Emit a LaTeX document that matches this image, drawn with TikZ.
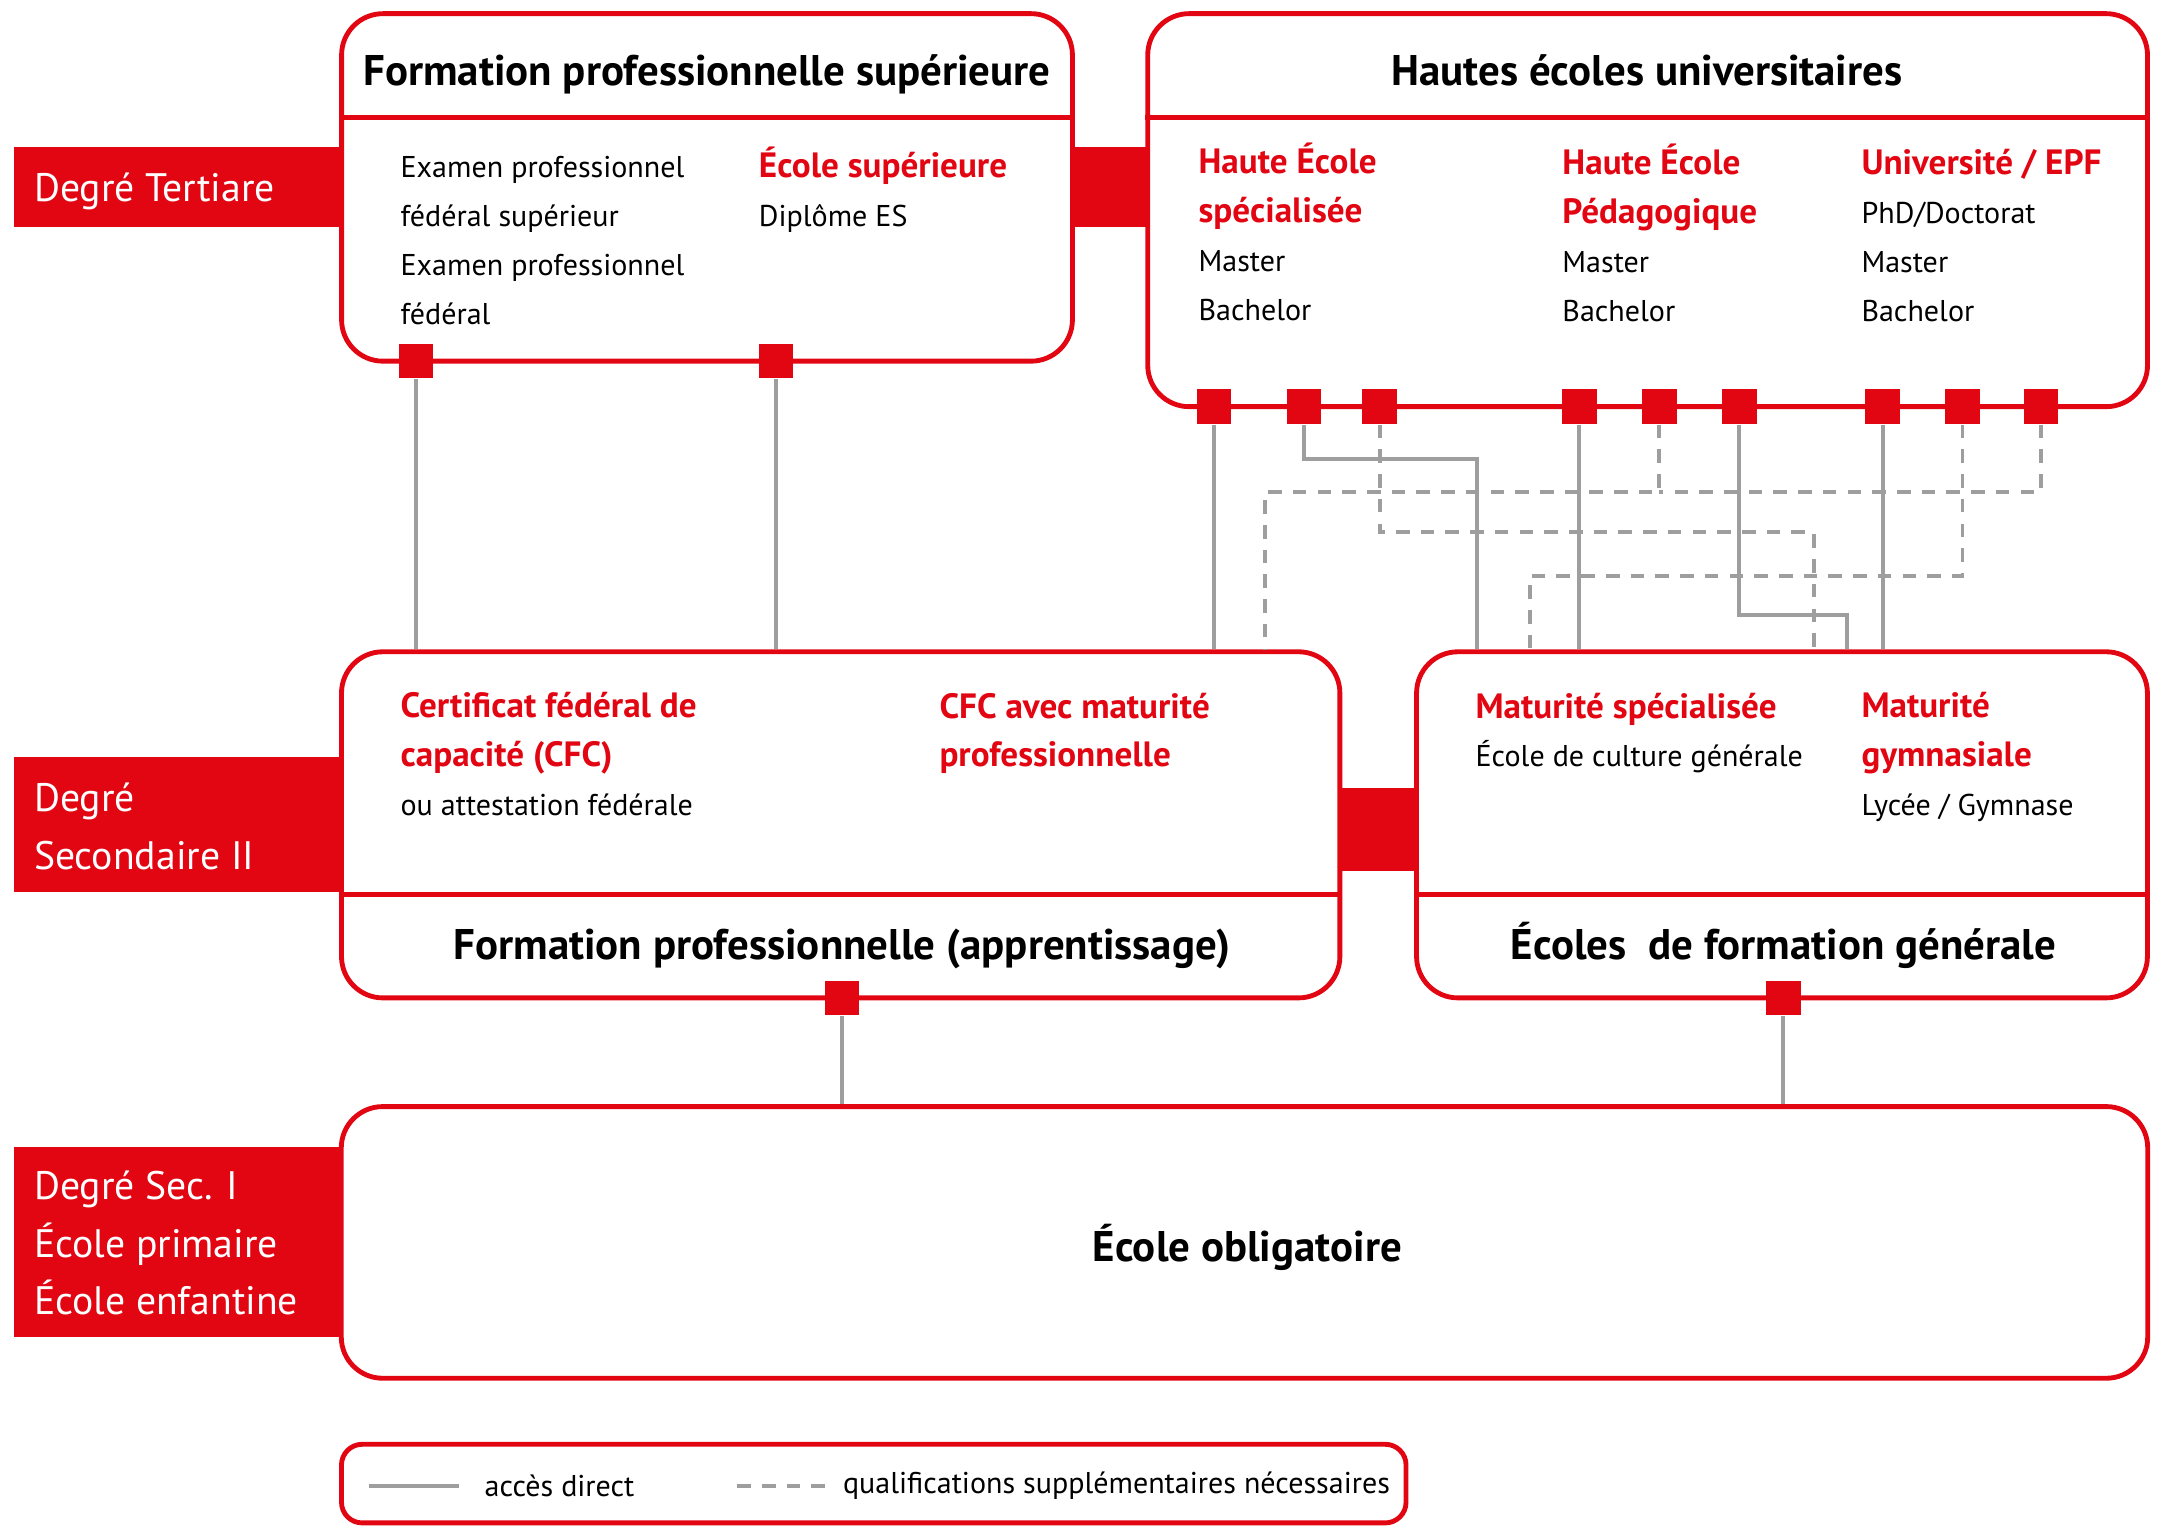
\documentclass[tikz,border=0pt]{standalone}
\usepackage{fontspec}
\setmainfont{PT Sans}
\usepackage{tikz}

\definecolor{chred}{RGB}{226,6,19}
\definecolor{linkgray}{RGB}{158,158,158}
\newcommand{\inst}[1]{\textcolor{chred}{\bfseries\fontsize{7.25}{10.1}\selectfont #1}}

\tikzset{
  box/.style={draw=chred, line width=1pt, rounded corners=0.3cm, fill=white, inner sep=0pt},
  rule/.style={draw=chred, line width=1pt},
  band/.style={fill=chred},
  pin/.style={fill=chred, minimum width=0.25cm, minimum height=0.25cm, inner sep=0pt},
  direct/.style={draw=linkgray, line width=0.8pt},
  extra/.style={direct, dash pattern=on 2.8pt off 2.3pt},
  head/.style={font=\bfseries\fontsize{8.85}{10}\selectfont, text height=1.5ex, text depth=0.25ex, inner sep=0pt},
  body/.style={font=\fontsize{6.2}{10.1}\selectfont, align=left, anchor=base west, inner sep=0pt},
  side/.style={text=white, font=\fontsize{8.2}{11.9}\selectfont, align=left, anchor=base west, inner sep=0pt}
}

\begin{document}
\begin{tikzpicture}[x=0.01cm, y=-0.01cm]
  \useasboundingbox (0,0) rectangle (1568,1110);

  % red bands of the levels
  \fill[band] (10,107) rectangle (248,165);
  \fill[band] (10,549) rectangle (248,647);
  \fill[band] (10,832) rectangle (248,970);
  \fill[band] (770,107) rectangle (840,165);
  \fill[band] (965,572) rectangle (1035,632);

  % (base = last line)
  \node[side] (tert) at (24,146) {Degré Tertiare};
  \node[side] (sec2) at (24,631) {Degré\\Secondaire II};
  \node[side] (sec1) at (24,954) {Degré Sec. I\\École primaire\\École enfantine};

  % boxes
  \node[box, minimum width=5.30cm, minimum height=2.52cm] (fps) at (513,136) {};
  \node[box, minimum width=7.25cm, minimum height=2.85cm] (hes) at (1195.5,152.5) {};
  \node[box, minimum width=7.24cm, minimum height=2.51cm] (appr) at (610,598.5) {};
  \node[box, minimum width=5.30cm, minimum height=2.51cm] (gen) at (1293,598.5) {};
  \node[box, minimum width=13.10cm, minimum height=1.97cm] (oblig) at (903,901.5) {};
  \node[box, rounded corners=0.15cm, minimum width=7.72cm, minimum height=0.57cm] (leg) at (634,1076.5) {};

  \draw[rule] ([yshift=-0.77cm]fps.north west) -- ([yshift=-0.77cm]fps.north east);
  \draw[rule] ([yshift=-0.77cm]hes.north west) -- ([yshift=-0.77cm]hes.north east);
  \draw[rule] ([yshift=0.77cm]appr.south west) -- ([yshift=0.77cm]appr.south east);
  \draw[rule] ([yshift=0.77cm]gen.south west) -- ([yshift=0.77cm]gen.south east);

  % titles
  \node[head] (fpsT) at (513,51) {Formation professionnelle supérieure};
  \node[head] (hesT) at (1195,51) {Hautes écoles universitaires};
  \node[head] (apprT) at (611,685) {Formation professionnelle (apprentissage)};
  \node[head] (genT) at (1294,685) {Écoles\ \ de formation générale};
  \node[head] (obligT) at (905,904) {École obligatoire};

  % contents
  \node[body] (exam) at (290,235.5) {Examen professionnel\\fédéral supérieur\\Examen professionnel\\fédéral};
  \node[body] (es) at (550,164.5) {\inst{École supérieure}\\Diplôme ES};
  \node[body] (hs) at (869,232.5) {\inst{Haute École}\\\inst{spécialisée}\\Master\\Bachelor};
  \node[body] (hp) at (1133,233.5) {\inst{Haute École}\\\inst{Pédagogique}\\Master\\Bachelor};
  \node[body] (uni) at (1350,233.5) {\inst{Université / EPF}\\PhD/Doctorat\\Master\\Bachelor};
  \node[body] (cfc) at (290,592) {\inst{Certificat fédéral de}\\\inst{capacité (CFC)}\\ou attestation fédérale};
  \node[body] (mp) at (681,556.5) {\inst{CFC avec maturité}\\\inst{professionnelle}};
  \node[body] (ms) at (1070,556.5) {\inst{Maturité spécialisée}\\École de culture générale};
  \node[body] (mg) at (1350,592) {\inst{Maturité}\\\inst{gymnasiale}\\Lycée / Gymnase};

  % red pins on the boxes
  \node[pin] (fps1) at (302,262) {};
  \node[pin] (fps2) at (563,262) {};
  \foreach \px [count=\i] in {881,946,1001,1146,1204,1262,1366,1424,1481}
    \node[pin] (hes\i) at (\px,295) {};
  \node[pin] (appr1) at (611,724) {};
  \node[pin] (gen1) at (1294,724) {};

  % bends
  \coordinate (b2) at (1072,333);
  \coordinate (b3) at (1316,386);
  \coordinate (b5) at (918,357);
  \coordinate (b6) at (1340,446);
  \coordinate (b8) at (1110,418);

  % connectors
  \draw[direct] (fps1) -- (fps1 |- appr.north);
  \draw[direct] (fps2) -- (fps2 |- appr.north);
  \draw[direct] (hes1) -- (hes1 |- appr.north);
  \draw[direct] (hes2) |- (b2) -- (b2 |- gen.north);
  \draw[extra] (hes3) |- (b3) -- (b3 |- gen.north);
  \draw[direct] (hes4) -- (hes4 |- gen.north);
  \draw[extra] (hes5) |- (b5) -- (b5 |- appr.north);
  \draw[direct] (hes6) |- (b6) -- (b6 |- gen.north);
  \draw[direct] (hes7) -- (hes7 |- gen.north);
  \draw[extra] (hes8) |- (b8) -- (b8 |- gen.north);
  \draw[extra] (hes9) |- (hes5 |- b5);
  \draw[direct] (appr1) -- (appr1 |- oblig.north);
  \draw[direct] (gen1) -- (gen1 |- oblig.north);

  % legend
  \coordinate (l1) at (268,1078);
  \coordinate (l2) at (535,1078);
  \draw[direct] (l1) -- ++(65,0);
  \node[body, anchor=west] (accT) at (351,1078) {accès direct};
  \draw[extra] (l2) -- ++(65,0);
  \node[body, anchor=west] (qualT) at (611,1078) {qualifications supplémentaires nécessaires};
\end{tikzpicture}
\end{document}
